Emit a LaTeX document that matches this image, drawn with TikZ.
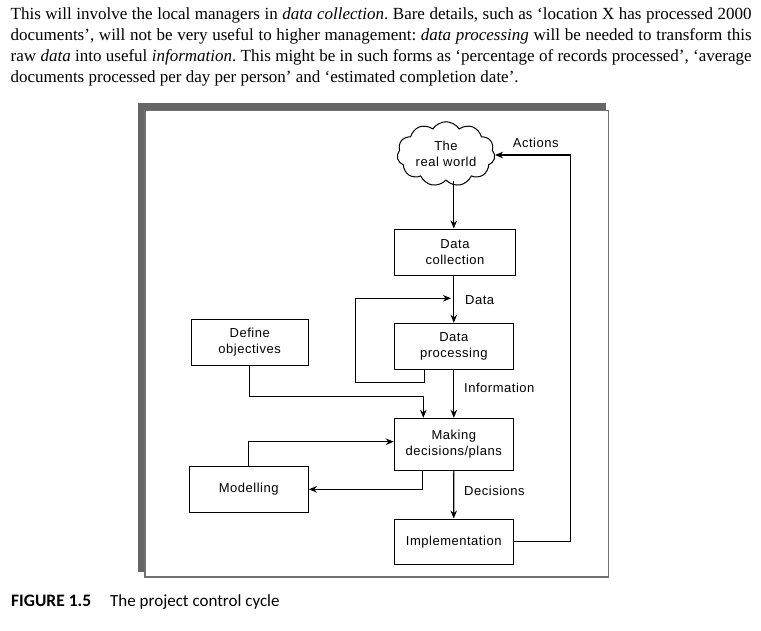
\documentclass[tikz,border=0pt]{standalone}
\usepackage{fontspec}
\setmainfont{Liberation Serif}
\newfontfamily\diagfont[LetterSpace=4]{Liberation Sans}
\newfontfamily\capfont{Carlito}
\usetikzlibrary{shapes.symbols,arrows.meta}
\definecolor{framegray}{HTML}{666666}
\definecolor{bordergray}{HTML}{707070}
\frenchspacing
\begin{document}
\begin{tikzpicture}[x=1pt,y=-1pt,
  box/.style={draw, line width=1.1pt, inner sep=0pt, align=center, font=\diagfont\fontsize{13}{16}\selectfont},
  lbl/.style={anchor=west, inner sep=0pt, font=\diagfont\fontsize{13}{16}\selectfont},
  conn/.style={line width=1.1pt},
  arr/.style={conn, -{Stealth[length=8pt,width=6.5pt]}},
  bodyline/.style={anchor=base west, inner sep=0pt, font=\fontsize{17}{21}\selectfont},
  captext/.style={anchor=base west, inner sep=0pt, font=\capfont\fontsize{17}{20}\selectfont},
]
\useasboundingbox (0,0) rectangle (761,630);

% body text
\node[bodyline] (l1) at (10.5,19.3) {\makebox[741pt][s]{This will involve the local managers in \emph{data collection}. Bare details, such as ‘location X has processed 2000}};
\node[bodyline] (l2) at (10.5,40.5) {\makebox[741pt][s]{documents’, will not be very useful to higher management: \emph{data processing} will be needed to transform this}};
\node[bodyline] (l3) at (10.5,61.7) {\makebox[741pt][s]{raw \emph{data} into useful \emph{information}. This might be in such forms as ‘percentage of records processed’, ‘average}};
\node[bodyline] (l4) at (10.5,82.7) {documents processed per day per person’ and ‘estimated completion date’.};

% frame
\fill[framegray] (138.3,103) rectangle (605.7,571.7);
\draw[bordergray, line width=1.7pt, fill=white] (145,110.5) rectangle (608.5,576.7);

% nodes
\node[box, cloud, cloud puffs=11, cloud puff arc=115, aspect=1.6, minimum width=98pt, minimum height=62pt, line width=1pt] (cloud) at (446,154) {The\\real world};
\node[box, minimum width=121.4pt, minimum height=46.7pt] (coll) at (455,252.4) {Data\\collection};
\node[box, minimum width=119pt, minimum height=46pt] (proc) at (453.8,346.3) {Data\\processing};
\node[box, minimum width=117.3pt, minimum height=46pt] (obj) at (249.7,342.3) {Define\\objectives};
\node[box, minimum width=119pt, minimum height=51.7pt] (mak) at (453.8,444.2) {Making\\decisions/plans};
\node[box, minimum width=119.3pt, minimum height=45.6pt] (mod) at (248.7,489.5) {Modelling};
\node[box, minimum width=119.3pt, minimum height=45.3pt] (impl) at (453.7,541.7) {Implementation};

% labels
\node[lbl] (ldata) at (465,300) {Data};
\node[lbl] (linfo) at (464,388) {Information};
\node[lbl] (ldec) at (464,490.7) {Decisions};
\node[lbl] (lact) at (512.7,143) {Actions};

% bend coordinates
\coordinate (fb1) at (424.3,382.7);
\coordinate (fb2) at (355.7,382.7);
\coordinate (fb3) at (355.7,298.3);
\coordinate (fb4) at (451,298.3);
\coordinate (ob1) at (423.3,396.7);
\coordinate (m1) at (249,441.7);
\coordinate (d1) at (422.7,489.3);
\coordinate (a2) at (570.7,155);

% connectors
\draw[arr] (cloud.south -| proc.north) -- (proc.north |- coll.north);
\draw[arr] (coll.south -| proc.north) -- (proc.north);
\draw[arr] (proc.south -| fb1) -- (fb1) -- (fb2) -- (fb3) -- (fb4);
\draw[arr] (proc.south) -- (mak.north);
\draw[arr] (obj.south) |- (ob1) -- (ob1 |- mak.north);
\draw[arr] (mod.north) |- (m1 -| mak.west);
\draw[arr] (mak.south -| d1) -- (d1) -- (d1 -| mod.east);
\draw[arr] (mak.south) -- (impl.north);
\draw[arr] (impl.east) -| (a2) -- (a2 -| cloud.east);

% caption
\node[captext, font=\capfont\bfseries\fontsize{17.5}{20}\selectfont] (cap1) at (11,606.5) {FIGURE 1.5};
\node[captext] (cap2) at (110,606.5) {The project control cycle};
\end{tikzpicture}
\end{document}
